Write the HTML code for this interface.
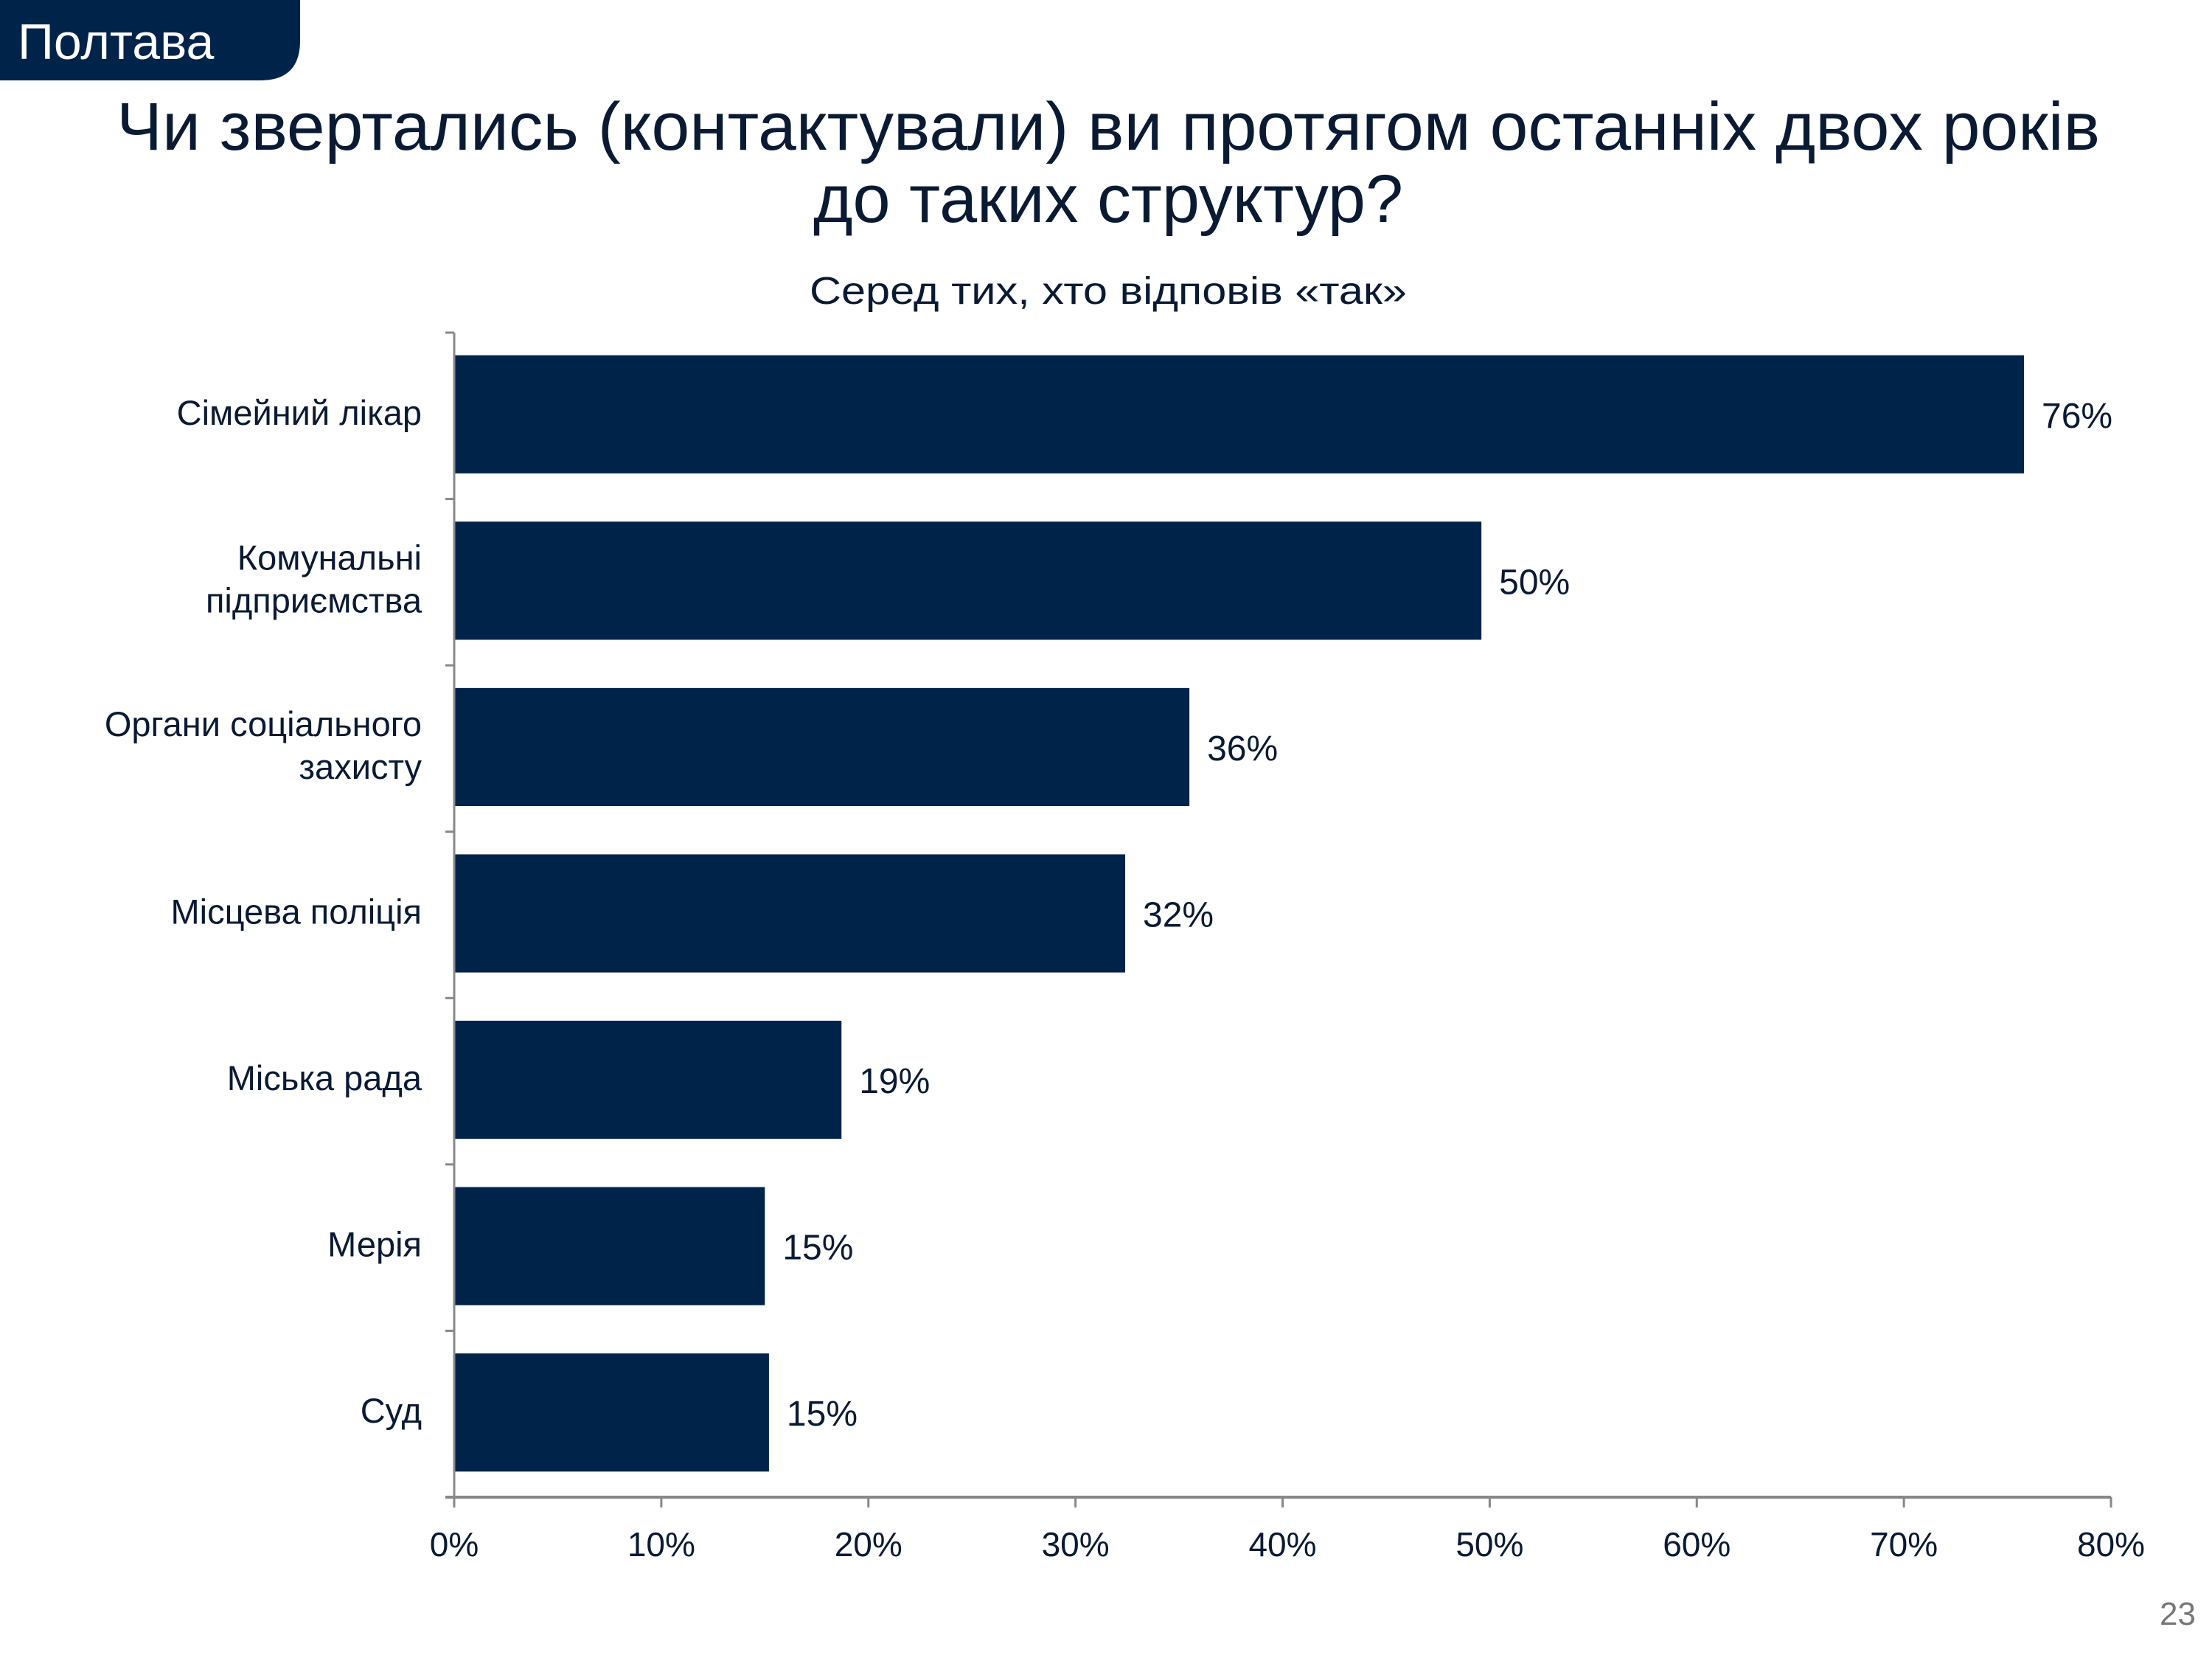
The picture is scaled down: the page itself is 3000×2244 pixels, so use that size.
<!DOCTYPE html>
<html><head><meta charset="utf-8"><style>
html,body{margin:0;padding:0;background:#fff;}
svg{display:block;font-family:"Liberation Sans","DejaVu Sans",sans-serif;}
</style></head><body>
<svg id="chart" width="3000" height="2244" viewBox="0 0 3000 2244" xmlns="http://www.w3.org/2000/svg">
<path d="M0 0 H407 V55 Q407 109 353 109 H0 Z" fill="#00234a"/>
<text x="24" y="80" font-size="68" fill="#fff">Полтава</text>
<text x="1503" y="203" font-size="92" fill="#0a1a33" text-anchor="middle" textLength="2690" lengthAdjust="spacingAndGlyphs">Чи звертались (контактували) ви протягом останніх двох років</text>
<text x="1503" y="301" font-size="92" fill="#0a1a33" text-anchor="middle" textLength="800" lengthAdjust="spacingAndGlyphs">до таких структур?</text>
<text x="1503" y="412" font-size="52" fill="#0a1a33" text-anchor="middle" textLength="810" lengthAdjust="spacingAndGlyphs">Серед тих, хто відповів «так»</text>
<g id="plot"></g>
<text x="2978" y="2203" font-size="44" fill="#777" text-anchor="end">23</text>
</svg>
<script>
const categories = [["Сімейний лікар"],["Комунальні","підприємства"],["Органи соціального","захисту"],["Місцева поліція"],["Міська рада"],["Мерія"],["Суд"]];
const values = [75.8,49.6,35.5,32.4,18.7,15.0,15.2];
const valueLabels = ["76%","50%","36%","32%","19%","15%","15%"];
const ticks = [0,10,20,30,40,50,60,70,80];
const tickLabels = ["0%","10%","20%","30%","40%","50%","60%","70%","80%"];

const NS="http://www.w3.org/2000/svg";
const g=document.getElementById('plot');
const x0=616,x1=2863,yTop=451,yBot=2030,xMax=80;
const band=(yBot-yTop)/categories.length;
const xs=v=>x0+(v/xMax)*(x1-x0);
const ys=i=>yTop+i*band;
function mk(t,a){const e=document.createElementNS(NS,t);for(const k in a)e.setAttribute(k,a[k]);g.appendChild(e);return e;}
const bh=band*0.71;
values.forEach((v,i)=>{
  const r=mk('rect',{x:x0,y:ys(i)+(band-bh)/2-2,width:xs(v)-x0,height:bh,fill:'#00234a'});
  
  
  const t=mk('text',{x:xs(v)+24,y:ys(i)+band/2+16,'font-size':48,fill:'#0a1a33'});
  t.textContent=valueLabels[i];
  
  
  const lines=categories[i];
  const c=mk('text',{x:572,'font-size':47,fill:'#0a1a33','text-anchor':'end'});
  
  
  lines.forEach((l,j)=>{
    const ts=document.createElementNS(NS,'tspan');
    ts.setAttribute('x',572);
    ts.setAttribute('y',ys(i)+band/2+12+(j-(lines.length-1)/2)*58);
    ts.textContent=l;c.appendChild(ts);
  });
});
for(let i=0;i<=categories.length;i++){
  const tk=mk('line',{x1:x0-12,x2:x0,y1:ys(i),y2:ys(i),stroke:'#888','stroke-width':3});
  
  
}
const ya=mk('line',{x1:x0,x2:x0,y1:yTop,y2:yBot,stroke:'#888','stroke-width':3});


const xa=mk('line',{x1:x0-12,x2:x1,y1:yBot,y2:yBot,stroke:'#888','stroke-width':4});


ticks.forEach((v,i)=>{
  const tk=mk('line',{x1:xs(v),x2:xs(v),y1:yBot,y2:yBot+14,stroke:'#888','stroke-width':3});
  
  
  const t=mk('text',{x:xs(v),y:2110,'font-size':46,fill:'#0a1a33','text-anchor':'middle'});
  t.textContent=tickLabels[i];
  
  
});
</script>
</body></html>
